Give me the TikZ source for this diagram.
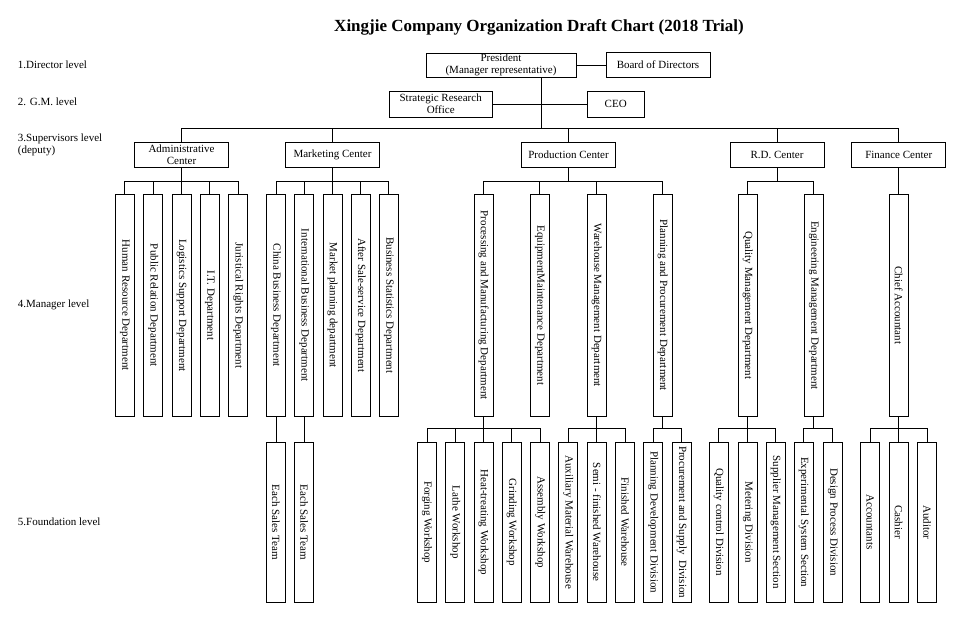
\documentclass[tikz,border=0pt]{standalone}
\usepackage{fontspec}
\setmainfont{Liberation Serif}
\tikzset{
  hbox/.style={draw,minimum width=94pt,minimum height=25pt,align=center,inner sep=0pt},
  mbox/.style={draw,minimum width=19pt,minimum height=222pt,inner sep=1pt},
  fbox/.style={draw,minimum width=19pt,minimum height=160pt,inner sep=1pt},
  lvl/.style={anchor=west,align=left}
}
\begin{document}
\begin{tikzpicture}[x=1pt,y=-1pt,line width=0.9pt,inner sep=1pt,font=\fontsize{11}{12}\selectfont]
\useasboundingbox (0,0) rectangle (956,621);
\node[font=\bfseries\fontsize{17}{19}\selectfont] (ttl) at (539,27) {Xingjie Company Organization Draft Chart (2018 Trial)};
\node[lvl] (l1) at (16.5,65) {1.Director level};
\node[lvl] (l2) at (16.5,102) {2. G.M. level};
\node[lvl] (l3) at (16.5,145) {3.Supervisors level\\(deputy)};
\node[lvl] (l4) at (16.5,305) {4.Manager level};
\node[lvl] (l5) at (16.5,522) {5.Foundation level};
\node[hbox,minimum width=150pt,minimum height=24pt] (p) at (501,65) {President\\(Manager representative)};
\node[hbox,minimum width=104pt] (b) at (658,65) {Board of Directors};
\node[hbox,minimum width=103.5pt,minimum height=26pt] (s) at (440.7,104) {Strategic Research\\Office};
\node[hbox,minimum width=56.5pt,minimum height=26pt] (ceo) at (615.7,104) {CEO};
\coordinate (t) at (541,0);
\draw (p.east) -- (b.west);
\draw (s.east) -- (ceo.west);
\node[hbox] (c1) at (181.5,155) {Administrative\\Center};
\node[hbox] (c2) at (332.5,155) {Marketing Center};
\node[hbox] (c3) at (568.5,155) {Production Center};
\node[hbox] (c4) at (777,155) {R.D. Center};
\node[hbox] (c5) at (898.7,155) {Finance Center};
\foreach \n in {c1,c2,c3,c4,c5} \draw (\n.north) -- ++(0,-14) -| (p.south -| t);
\node[mbox] (a1) at (124.8,305.3) {\rotatebox{-90}{Human Resource Department}};
\node[mbox] (a2) at (153.2,305.3) {\rotatebox{-90}{Public Relation Department}};
\node[mbox] (a3) at (181.5,305.3) {\rotatebox{-90}{Logistics Support Department}};
\node[mbox] (a4) at (209.9,305.3) {\rotatebox{-90}{I.T. Department}};
\node[mbox] (a5) at (238.2,305.3) {\rotatebox{-90}{Juristical Rights Department}};
\node[mbox] (k1) at (276,305.3) {\rotatebox{-90}{China Business Department}};
\node[mbox] (k2) at (304.2,305.3) {\rotatebox{-90}{International Business Department}};
\node[mbox] (k3) at (332.5,305.3) {\rotatebox{-90}{Market planning department}};
\node[mbox] (k4) at (360.8,305.3) {\rotatebox{-90}{After Sale-service Department}};
\node[mbox] (k5) at (388.8,305.3) {\rotatebox{-90}{Business Statistics Department}};
\node[mbox] (q1) at (483.5,305.3) {\rotatebox{-90}{Processing and Manufacturing Department}};
\node[mbox] (q2) at (539.8,305.3) {\rotatebox{-90}{EquipmentMaintenance Department}};
\node[mbox] (q3) at (596.8,305.3) {\rotatebox{-90}{Warehouse Management Department}};
\node[mbox] (q4) at (662.8,305.3) {\rotatebox{-90}{Planning and Procurement Department}};
\node[mbox] (r1) at (747.8,305.3) {\rotatebox{-90}{Quality Management Department}};
\node[mbox] (r2) at (813.8,305.3) {\rotatebox{-90}{Engineering Management Department}};
\node[mbox] (f1) at (898.7,305.3) {\rotatebox{-90}{Chief Accountant}};
\foreach \n in {a1,a2,a3,a4,a5} \draw (\n.north) -- ++(0,-12.6) -| (c1.south);
\foreach \n in {k1,k2,k3,k4,k5} \draw (\n.north) -- ++(0,-12.6) -| (c2.south);
\foreach \n in {q1,q2,q3,q4} \draw (\n.north) -- ++(0,-12.6) -| (c3.south);
\foreach \n in {r1,r2} \draw (\n.north) -- ++(0,-12.6) -| (c4.south);
\draw (c5.south) -- (f1.north);
\node[fbox] (e1) at (276,522.2) {\rotatebox{-90}{Each Sales Team}};
\node[fbox] (e2) at (304.2,522.2) {\rotatebox{-90}{Each Sales Team}};
\draw (k1.south) -- (e1.north) (k2.south) -- (e2.north);
\node[fbox] (w1) at (427,522.2) {\rotatebox{-90}{Forging Workshop}};
\node[fbox] (w2) at (455.2,522.2) {\rotatebox{-90}{Lathe Workshop}};
\node[fbox] (w3) at (483.5,522.2) {\rotatebox{-90}{Heat-treating Workshop}};
\node[fbox] (w4) at (511.8,522.2) {\rotatebox{-90}{Grinding Workshop}};
\node[fbox] (w5) at (540.2,522.2) {\rotatebox{-90}{Assembly Workshop}};
\node[fbox] (h1) at (568.2,522.2) {\rotatebox{-90}{Auxiliary Material Warehouse}};
\node[fbox] (h2) at (596.8,522.2) {\rotatebox{-90}{Semi - finished Warehouse}};
\node[fbox] (h3) at (625.2,522.2) {\rotatebox{-90}{Finished Warehouse}};
\node[fbox] (d1) at (653.2,522.2) {\rotatebox{-90}{Planning Development Division}};
\node[fbox] (d2) at (681.8,522.2) {\rotatebox{-90}{Procurement and Supply\ \ Division}};
\node[fbox] (v1) at (718.8,522.2) {\rotatebox{-90}{Quality control Division}};
\node[fbox] (v2) at (747.8,522.2) {\rotatebox{-90}{Metering Division}};
\node[fbox] (v3) at (775.8,522.2) {\rotatebox{-90}{Supplier Management Section}};
\node[fbox] (x1) at (803.8,522.2) {\rotatebox{-90}{Experimental System Section}};
\node[fbox] (x2) at (832.8,522.2) {\rotatebox{-90}{Design Process Division}};
\node[fbox] (y1) at (870.2,522.2) {\rotatebox{-90}{Accountants}};
\node[fbox] (y2) at (898.7,522.2) {\rotatebox{-90}{Cashier}};
\node[fbox] (y3) at (927.2,522.2) {\rotatebox{-90}{Auditor}};
\foreach \n in {w1,w2,w3,w4,w5} \draw (\n.north) -- ++(0,-13.3) -| (q1.south);
\foreach \n in {h1,h2,h3} \draw (\n.north) -- ++(0,-13.3) -| (q3.south);
\foreach \n in {d1,d2} \draw (\n.north) -- ++(0,-13.3) -| (q4.south);
\foreach \n in {v1,v2,v3} \draw (\n.north) -- ++(0,-13.3) -| (r1.south);
\foreach \n in {x1,x2} \draw (\n.north) -- ++(0,-13.3) -| (r2.south);
\foreach \n in {y1,y2,y3} \draw (\n.north) -- ++(0,-13.3) -| (f1.south);
\end{tikzpicture}
\end{document}
